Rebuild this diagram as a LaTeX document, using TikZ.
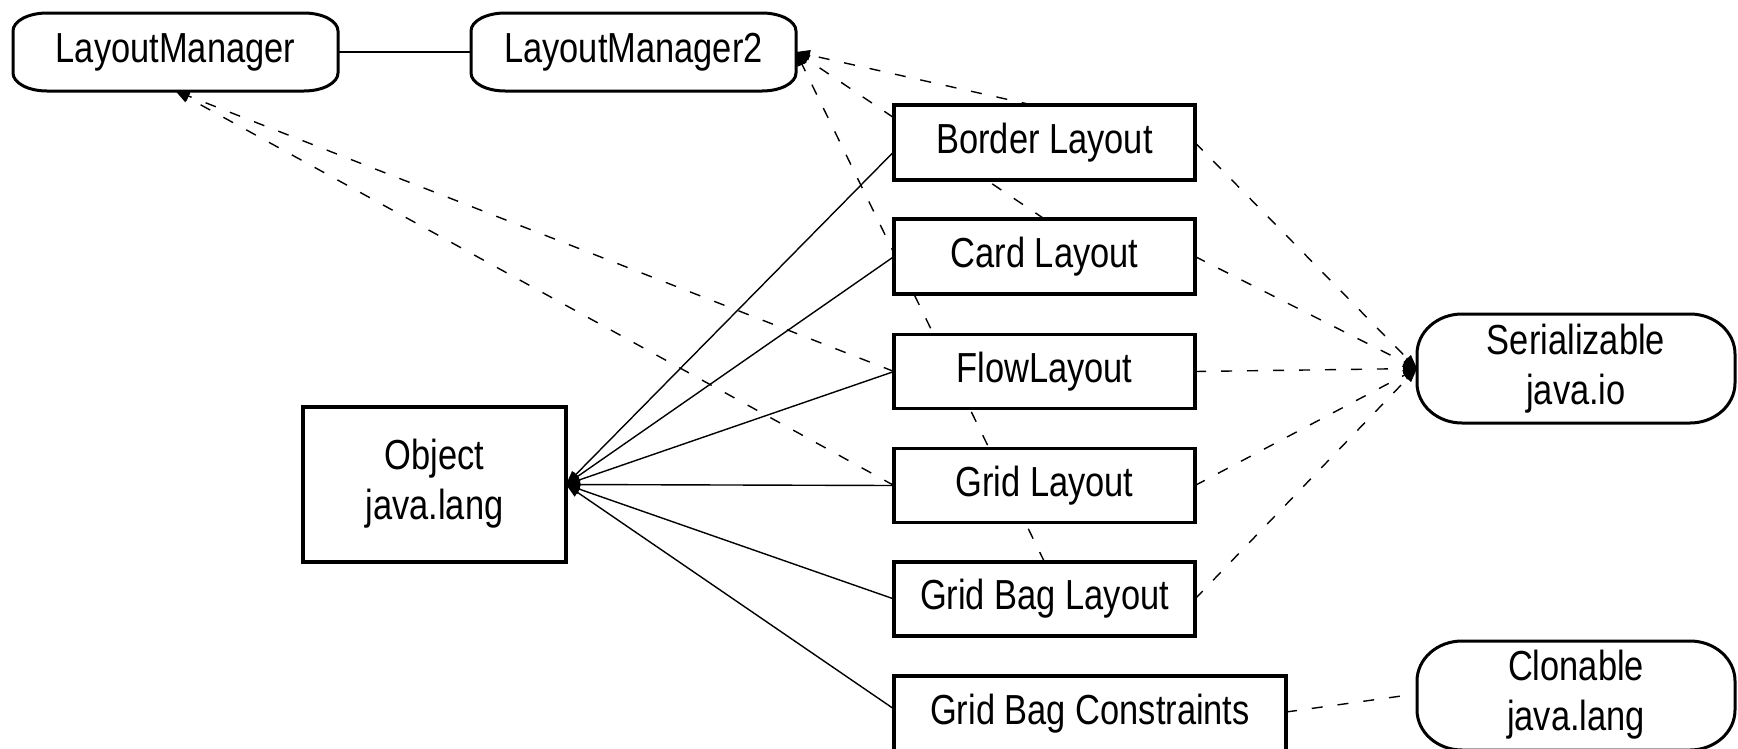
\documentclass[tikz,border=0pt]{standalone}
\usepackage{fontspec}
\setmainfont{Liberation Sans}
\usepackage{graphicx}
\usetikzlibrary{backgrounds,calc,arrows.meta}
\newcommand\cnd[1]{\scalebox{0.82}[1]{#1}}
\newcommand\ovalframe[3]{%
  \draw[line width=3pt] ([xshift=#2]#1.north west) -- ([xshift=-#2]#1.north east)
    arc[start angle=90,end angle=0,x radius=#2,y radius=#3]
    -- ([yshift=#3]#1.south east)
    arc[start angle=0,end angle=-90,x radius=#2,y radius=#3]
    -- ([xshift=#2]#1.south west)
    arc[start angle=270,end angle=180,x radius=#2,y radius=#3]
    -- ([yshift=-#3]#1.north west)
    arc[start angle=180,end angle=90,x radius=#2,y radius=#3] -- cycle;}
\begin{document}
\begin{tikzpicture}[x=1pt,y=-1pt,
  cls/.style={draw,line width=3.3pt,fill=white,minimum width=301pt,inner sep=0pt,outer sep=0pt,font=\fontsize{42}{50}\selectfont},
  ovl/.style={inner sep=0pt,outer sep=0pt,align=center,font=\fontsize{42}{50}\selectfont},
  rel/.style={line width=1.4pt,dash pattern=on 11pt off 15pt,-{Triangle[length=14pt,width=10pt]}},
  relnotip/.style={line width=1.4pt,dash pattern=on 11pt off 15pt},
  inh/.style={line width=1.4pt,-{Triangle[length=14pt,width=10pt]}},
  link/.style={line width=1.4pt}]
\useasboundingbox (0,0) rectangle (1738,748);

% interfaces
\node[ovl,minimum width=325pt,minimum height=78pt] (lm) at (175.5,52) {\cnd{LayoutManager}};
\node[ovl,minimum width=325pt,minimum height=78pt] (lm2) at (633.5,52) {\cnd{LayoutManager2}};
\ovalframe{lm}{34pt}{18pt}
\ovalframe{lm2}{34pt}{18pt}
\node[ovl,minimum width=318pt,minimum height=109pt] (ser) at (1576,368.5) {\cnd{Serializable}\\\cnd{java.io}};
\ovalframe{ser}{45pt}{40pt}
\node[ovl,minimum width=318pt,minimum height=109pt] (clon) at (1576,695.5)
  {\raisebox{5pt}{\begin{tabular}{@{}c@{}}\cnd{Clonable}\\\cnd{java.lang}\end{tabular}}};
\ovalframe{clon}{45pt}{40pt}

% classes
\node[cls,minimum height=75pt] (border) at (1044.5,142.5) {\cnd{Border Layout}};
\node[cls,minimum height=75pt] (card) at (1044.5,256.5) {\cnd{Card Layout}};
\node[cls,minimum height=74pt] (flow) at (1044.5,371.5) {\cnd{FlowLayout}};
\node[cls,minimum height=74pt] (grid) at (1044.5,485.5) {\cnd{Grid Layout}};
\node[cls,minimum height=74pt] (gridbag) at (1044.5,599) {\cnd{Grid Bag Layout}};
\node[cls,minimum width=392pt,minimum height=76pt] (gbc) at (1090,714) {\raisebox{8pt}{\cnd{Grid Bag Constraints}}};
\node[cls,minimum width=263pt,minimum height=155pt] (object) at (434.5,484.5)
  {\raisebox{5pt}{\begin{tabular}{@{}c@{}}\cnd{Object}\\\cnd{java.lang}\end{tabular}}};

\begin{scope}[on background layer]
\fill[white] (0,0) rectangle (1738,748);
\draw[link] (lm) -- (lm2);
% to Object
\draw[inh] ($(border.west)+(0,9)$) -- (object.east);
\draw[inh] (card.west) -- (object.east);
\draw[inh] (flow.west) -- (object.east);
\draw[inh] (grid.west) -- (object.east);
\draw[inh] (gridbag.west) -- (object.east);
\draw[inh] ($(gbc.west)+(0,-5)$) -- (object.east);
% to LayoutManager
\draw[rel] (flow.west) -- (lm.south);
\draw[rel] (grid.west) -- (lm.south);
% to LayoutManager2
\draw[rel] ($(border.north)+(-12,0)$) -- (lm2.east);
\draw[rel] (card.north) -- (lm2.east);
\draw[rel] (gridbag.north) -- (lm2.east);
% to Serializable
\draw[rel] (border.east) -- (ser.west);
\draw[rel] (card.east) -- (ser.west);
\draw[rel] (flow.east) -- (ser.west);
\draw[rel] (grid.east) -- (ser.west);
\draw[rel] (gridbag.east) -- (ser.west);
% to Clonable
\draw[relnotip] ($(gbc.east)+(0,-2)$) -- ($(clon.west)+(-12,0)$);
\end{scope}
\end{tikzpicture}
\end{document}
